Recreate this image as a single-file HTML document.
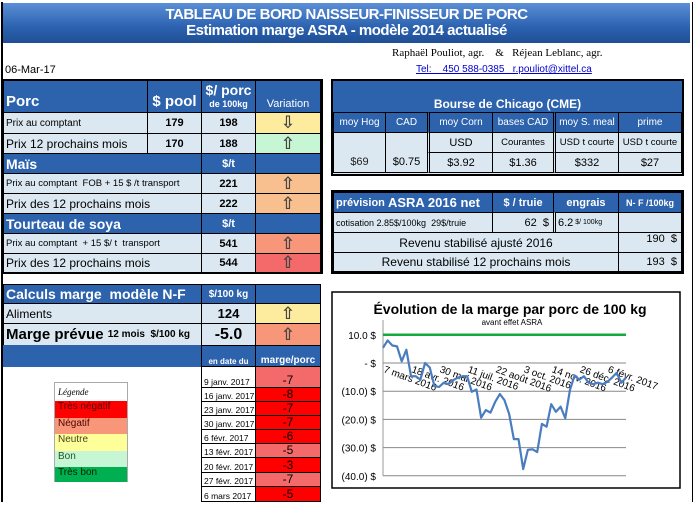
<!DOCTYPE html>
<html><head><meta charset="utf-8">
<style>
body{margin:0;width:693px;height:505px;position:relative;background:#fff;font-family:"Liberation Sans",sans-serif;overflow:hidden}
.c{position:absolute;box-sizing:border-box;border:1px solid #000;display:flex;align-items:center;font-size:11px;color:#000;white-space:nowrap;overflow:hidden}
.b{background:#2d63ad;color:#fff;font-weight:bold}
.l{background:#dbe8f1}
.ctr{justify-content:center}
.r{justify-content:flex-end;padding-right:4px}
.p{padding-left:2px}
.ar{color:#444;font-size:17px;font-weight:bold;justify-content:center;font-family:"DejaVu Sans",sans-serif}
</style></head><body>
<div style="position:absolute;left:1px;top:2px;width:689px;height:500px;border-left:2px solid #000;border-right:2px solid #000"></div>
<div style="position:absolute;left:3px;top:3px;width:687px;height:40px;background:linear-gradient(#5b8fd6,#2c62b0 60%,#1f4f95);color:#fff;font-weight:bold;text-align:center;font-size:15px;line-height:16px;padding-top:4px;box-sizing:border-box;letter-spacing:-0.5px">TABLEAU DE BORD NAISSEUR-FINISSEUR DE PORC<br>Estimation marge ASRA - modèle 2014 actualisé</div>
<div style="position:absolute;left:392px;top:47px;font-family:'Liberation Serif',serif;font-size:11px">Raphaël Pouliot, agr. &nbsp;&nbsp; &amp; &nbsp;&nbsp;Réjean Leblanc, agr.</div>
<div style="position:absolute;left:5px;top:64px;font-size:11px">06-Mar-17</div>
<div style="position:absolute;left:416px;top:64px;font-size:10px;color:#00c;text-decoration:underline">Tel:&nbsp;&nbsp;&nbsp; 450 588-0385&nbsp;&nbsp; r.pouliot@xittel.ca</div>

<!-- left table -->
<div style="position:absolute;left:3px;top:79px;width:320px;height:195px;border:2px solid #000;box-sizing:border-box"></div>
<div class="c b p" style="left:3px;top:80px;width:145px;height:33px;font-size:15px;align-items:flex-end;padding-bottom:2px">Porc</div>
<div class="c b ctr" style="left:147px;top:80px;width:55px;height:33px;font-size:15px;align-items:flex-end;padding-bottom:2px">$ pool</div>
<div class="c b ctr" style="left:201px;top:80px;width:55px;height:33px;flex-direction:column;font-size:14px;line-height:14px">$/ porc<span style="font-size:9px">de 100kg</span></div>
<div class="c b ctr" style="left:255px;top:80px;width:66px;height:33px;font-weight:normal;align-items:flex-end;padding-bottom:2px">Variation</div>

<div class="c l p" style="left:3px;top:112px;width:145px;height:22px;font-size:10px">Prix au comptant</div>
<div class="c l ctr" style="left:147px;top:112px;width:55px;height:22px;font-weight:bold">179</div>
<div class="c l ctr" style="left:201px;top:112px;width:55px;height:22px;font-weight:bold">198</div>
<div class="c ar" style="left:255px;top:112px;width:66px;height:22px;background:#fdec9d">⇩</div>

<div class="c l p" style="left:3px;top:133px;width:145px;height:21px;font-size:12px">Prix 12 prochains mois</div>
<div class="c l ctr" style="left:147px;top:133px;width:55px;height:21px;font-weight:bold">170</div>
<div class="c l ctr" style="left:201px;top:133px;width:55px;height:21px;font-weight:bold">188</div>
<div class="c ar" style="left:255px;top:133px;width:66px;height:21px;background:#c6f6d3">⇧</div>

<div class="c b p" style="left:3px;top:153px;width:199px;height:21px;font-size:14px">Maïs</div>
<div class="c b ctr" style="left:201px;top:153px;width:55px;height:21px;font-size:11px">$/t</div>
<div class="c b" style="left:255px;top:153px;width:66px;height:21px"></div>
<div class="c l p" style="left:3px;top:173px;width:199px;height:21px;font-size:9.5px">Prix au comptant&nbsp; FOB + 15 $ /t transport</div>
<div class="c l ctr" style="left:201px;top:173px;width:55px;height:21px;font-weight:bold">221</div>
<div class="c ar" style="left:255px;top:173px;width:66px;height:21px;background:#f8c08e">⇧</div>
<div class="c l p" style="left:3px;top:193px;width:199px;height:21px;font-size:12px">Prix des 12 prochains mois</div>
<div class="c l ctr" style="left:201px;top:193px;width:55px;height:21px;font-weight:bold">222</div>
<div class="c ar" style="left:255px;top:193px;width:66px;height:21px;background:#f8c08e">⇧</div>

<div class="c b p" style="left:3px;top:213px;width:199px;height:21px;font-size:14px">Tourteau de soya</div>
<div class="c b ctr" style="left:201px;top:213px;width:55px;height:21px">$/t</div>
<div class="c b" style="left:255px;top:213px;width:66px;height:21px"></div>
<div class="c l p" style="left:3px;top:233px;width:199px;height:21px;font-size:9.5px">Prix au comptant&nbsp; + 15 $/ t&nbsp; transport</div>
<div class="c l ctr" style="left:201px;top:233px;width:55px;height:21px;font-weight:bold">541</div>
<div class="c ar" style="left:255px;top:233px;width:66px;height:21px;background:#f79679">⇧</div>
<div class="c l p" style="left:3px;top:253px;width:199px;height:20px;font-size:12px">Prix des 12 prochains mois</div>
<div class="c l ctr" style="left:201px;top:253px;width:55px;height:20px;font-weight:bold">544</div>
<div class="c ar" style="left:255px;top:253px;width:66px;height:20px;background:#f46a6a">⇧</div>

<!-- calculs -->
<div class="c b p" style="left:3px;top:284px;width:199px;height:20px;font-size:14px">Calculs marge&nbsp; modèle N-F</div>
<div class="c b ctr" style="left:201px;top:284px;width:55px;height:20px;font-size:10px">$/100 kg</div>
<div class="c b" style="left:255px;top:284px;width:66px;height:20px"></div>
<div class="c l p" style="left:3px;top:303px;width:199px;height:21px;font-size:12px">Aliments</div>
<div class="c l ctr" style="left:201px;top:303px;width:55px;height:21px;font-weight:bold;font-size:13px">124</div>
<div class="c ar" style="left:255px;top:303px;width:66px;height:21px;background:#fdec9d">⇧</div>
<div class="c l p" style="left:3px;top:323px;width:199px;height:23px;font-weight:bold;font-size:15px">Marge prévue&nbsp;<span style="font-size:10px">12 mois&nbsp; $/100 kg</span></div>
<div class="c l ctr" style="left:201px;top:323px;width:55px;height:23px;font-weight:bold;font-size:16px">-5.0</div>
<div class="c ar" style="left:255px;top:323px;width:66px;height:23px;background:#f79679">⇧</div>
<div style="position:absolute;left:3px;top:345px;width:318px;height:22px;background:#2d63ad"></div>
<div class="c b ctr" style="left:201px;top:345px;width:55px;height:22px;font-size:8px;align-items:flex-end">en date du</div>
<div class="c b ctr" style="left:255px;top:345px;width:66px;height:22px;font-size:10px;align-items:flex-end">marge/porc</div>
<div id="hist"></div>

<!-- legend -->
<div style="position:absolute;left:54px;top:382px;width:74px;height:100px;border:1px solid #aaa;box-sizing:border-box;font-size:10px">
<div style="height:18px;font-style:italic;font-family:'Liberation Serif',serif;font-size:9px;padding:4px 0 0 3px;box-sizing:border-box">Légende</div>
<div style="height:16.5px;background:#f00;padding-left:3px;color:#500">Très négatif</div>
<div style="height:16.5px;background:#f79679;padding-left:3px;color:#500">Négatif</div>
<div style="height:16.5px;background:#ffff99;padding-left:3px;color:#442">Neutre</div>
<div style="height:16.5px;background:#c6f6d3;padding-left:3px;color:#252">Bon</div>
<div style="height:15px;background:#00b050;padding-left:3px;color:#020">Très bon</div>
</div>

<!-- CME -->
<div style="position:absolute;left:331px;top:79px;width:353px;height:97px;border:2px solid #000;box-sizing:border-box;background:#dbe8f1"></div>
<div class="c b ctr" style="left:333px;top:81px;width:349px;height:32px;align-items:flex-end;padding-bottom:2px;font-size:12px;border:none">Bourse de Chicago (CME)</div>
<div class="c b ctr" style="left:333px;top:112px;width:53px;height:21px;font-weight:normal;font-size:10px">moy Hog</div>
<div class="c b ctr" style="left:385px;top:112px;width:43px;height:21px;font-weight:normal;font-size:10px">CAD</div>
<div class="c b ctr" style="left:427px;top:112px;width:66px;height:21px;font-weight:normal;font-size:10px;border-left:3px double #000">moy Corn</div>
<div class="c b ctr" style="left:492px;top:112px;width:62px;height:21px;font-weight:normal;font-size:10px">bases CAD</div>
<div class="c b ctr" style="left:553px;top:112px;width:66px;height:21px;font-weight:normal;font-size:10px;border-left:3px double #000">moy S. meal</div>
<div class="c b ctr" style="left:618px;top:112px;width:64px;height:21px;font-weight:normal;font-size:10px">prime</div>
<div class="c l ctr" style="left:333px;top:132px;width:53px;height:41px;align-items:flex-end;padding-bottom:4px;color:#222">$69</div>
<div class="c l ctr" style="left:385px;top:132px;width:43px;height:41px;align-items:flex-end;padding-bottom:4px">$0.75</div>
<div class="c l ctr" style="left:427px;top:132px;width:66px;height:21px;border-left:3px double #000">USD</div>
<div class="c l ctr" style="left:492px;top:132px;width:62px;height:21px;font-size:9.5px">Courantes</div>
<div class="c l ctr" style="left:553px;top:132px;width:66px;height:21px;font-size:9.5px;border-left:3px double #000">USD t courte</div>
<div class="c l ctr" style="left:618px;top:132px;width:64px;height:21px;font-size:9.5px">USD t courte</div>
<div class="c l ctr" style="left:427px;top:152px;width:66px;height:21px;border-left:3px double #000">$3.92</div>
<div class="c l ctr" style="left:492px;top:152px;width:62px;height:21px">$1.36</div>
<div class="c l ctr" style="left:553px;top:152px;width:66px;height:21px;border-left:3px double #000">$332</div>
<div class="c l ctr" style="left:618px;top:152px;width:64px;height:21px">$27</div>

<!-- ASRA -->
<div style="position:absolute;left:331px;top:190px;width:353px;height:84px;border:2px solid #000;box-sizing:border-box;background:#dbe8f1"></div>
<div class="c b p" style="left:333px;top:192px;width:160px;height:21px;font-size:11px">prévision&nbsp;<span style="font-size:13px">ASRA 2016 net</span></div>
<div class="c b ctr" style="left:492px;top:192px;width:62px;height:21px">$ / truie</div>
<div class="c b ctr" style="left:553px;top:192px;width:66px;height:21px">engrais</div>
<div class="c b ctr" style="left:618px;top:192px;width:64px;height:21px;font-size:9px">N- F /100kg</div>
<div class="c l p" style="left:333px;top:212px;width:160px;height:21px;font-size:9px">cotisation 2.85$/100kg&nbsp; 29$/truie</div>
<div class="c l r" style="left:492px;top:212px;width:62px;height:21px">62&nbsp; $</div>
<div class="c l p" style="left:553px;top:212px;width:66px;height:21px;border-left:3px double #000">6.2 <span style="font-size:7px">&nbsp;$/ 100kg</span></div>
<div class="c l" style="left:618px;top:212px;width:64px;height:21px"></div>
<div class="c l ctr" style="left:333px;top:232px;width:286px;height:21px;font-size:12px">Revenu stabilisé ajusté 2016</div>
<div class="c l r" style="left:618px;top:232px;width:64px;height:21px;align-items:flex-start">190&nbsp; $</div>
<div class="c l ctr" style="left:333px;top:252px;width:286px;height:20px;font-size:12px">Revenu stabilisé 12 prochains mois</div>
<div class="c l r" style="left:618px;top:252px;width:64px;height:20px">193&nbsp; $</div>

<!-- chart -->
<svg id="chart" style="position:absolute;left:0;top:0" width="693" height="505"></svg>

<script>
const histDates=["9 janv. 2017","16 janv. 2017","23 janv. 2017","30 janv. 2017","6 févr. 2017","13 févr. 2017","20 févr. 2017","27 févr. 2017","6 mars 2017"];
const histValues=[-7,-8,-7,-7,-6,-5,-3,-7,-5];
const histColors=["#f46a6a","#ff0000","#ff0000","#ff0000","#ff0000","#f46a6a","#ff0000","#f46a6a","#ff0000"];
const chartValues=[5.4,8,6.2,5.9,0.6,4.7,-4.7,-4.7,-5.9,0,-1.6,-8.2,-8.5,-7,-7.5,-6.1,-5.2,-4.7,-4.7,-10.2,-9.4,-19.4,-16.7,-17.6,-13.8,-11,-13.2,-18.1,-27,-27,-37.6,-30.8,-30.6,-31.6,-21.6,-22.6,-14.6,-17.3,-15.5,-19.6,-9.6,-4.4,-5.9,-4.7,-7,-7.5,-7,-7.5,-6.7,-5.2,-3.5,-7,-5.2];
const xLabels=["7 mars 2016","18 avr. 2016","30 mai 2016","11 juil. 2016","22 août 2016","3 oct. 2016","14 nov. 2016","26 déc. 2016","6 févr. 2017"];
const yTicks=[10,0,-10,-20,-30,-40];
const yTickLabels=["10.0  $","-    $","(10.0) $","(20.0) $","(30.0) $","(40.0) $"];
const targetLine=10;

const hist=document.getElementById('hist');
const rowTops=[366,387,401,415,429,443,457,472,486];
histDates.forEach((d,i)=>{
  const h=(i<8?rowTops[i+1]:501)-rowTops[i]+1;
  const a=document.createElement('div');
  a.className='c';a.style.cssText=`left:201px;top:${rowTops[i]}px;width:55px;height:${h}px;font-size:8.5px;padding-left:2px;background:#fff;align-items:flex-end`;
  a.textContent=d;
  
  
  hist.appendChild(a);
  const b=document.createElement('div');
  b.className='c ctr';b.style.cssText=`left:255px;top:${rowTops[i]}px;width:66px;height:${h}px;font-size:12px;background:${histColors[i]};align-items:flex-end`;
  b.textContent=histValues[i];
  
  
  hist.appendChild(b);
});

const NS="http://www.w3.org/2000/svg";
const svg=document.getElementById('chart');
function mk(t,at,txt){const e=document.createElementNS(NS,t);for(const k in at)e.setAttribute(k,at[k]);if(txt!==undefined)e.textContent=txt;svg.appendChild(e);return e;}
const x0=383,x1=626;
const X=i=>x0+i*(x1-x0)/(chartValues.length-1);
const Y=v=>363-v*2.82;
let e=mk('rect',{x:332,y:292,width:348,height:196,fill:'#fff',stroke:'#000','stroke-width':1.5});

e=mk('text',{x:510,y:314,'text-anchor':'middle','font-size':14,'font-weight':'bold','font-family':'Liberation Sans'},'Évolution de la marge par porc de 100 kg');

e=mk('text',{x:512,y:325,'text-anchor':'middle','font-size':8,'font-family':'Liberation Sans'},'avant effet ASRA');

mk('line',{x1:x0,y1:320,x2:x0,y2:Y(-40),stroke:'#999','stroke-width':1});
yTicks.forEach((v,i)=>{
  if(v<0){e=mk('line',{x1:x0,y1:Y(v),x2:x1,y2:Y(v),stroke:'#888','stroke-width':1});
  }
  e=mk('text',{x:376,y:Y(v)+4,'text-anchor':'end','font-size':10,'font-family':'Liberation Sans'},yTickLabels[i]);
  
});
e=mk('line',{x1:x0,y1:Y(targetLine),x2:x1,y2:Y(targetLine),stroke:'#18a840','stroke-width':2.5});

mk('line',{x1:x0,y1:Y(0),x2:x1,y2:Y(0),stroke:'#888','stroke-width':1});
xLabels.forEach((l,i)=>{
  const xx=X(i*6);
  e=mk('text',{x:xx,y:Y(0)+9,'font-size':10,'font-family':'Liberation Sans',transform:`rotate(20 ${xx} ${Y(0)+9})`},l);
  
});
e=mk('polyline',{points:chartValues.map((v,i)=>X(i)+','+Y(v)).join(' '),fill:'none',stroke:'#4a7cc0','stroke-width':2.2,'stroke-linejoin':'round'});

</script>
</body></html>
